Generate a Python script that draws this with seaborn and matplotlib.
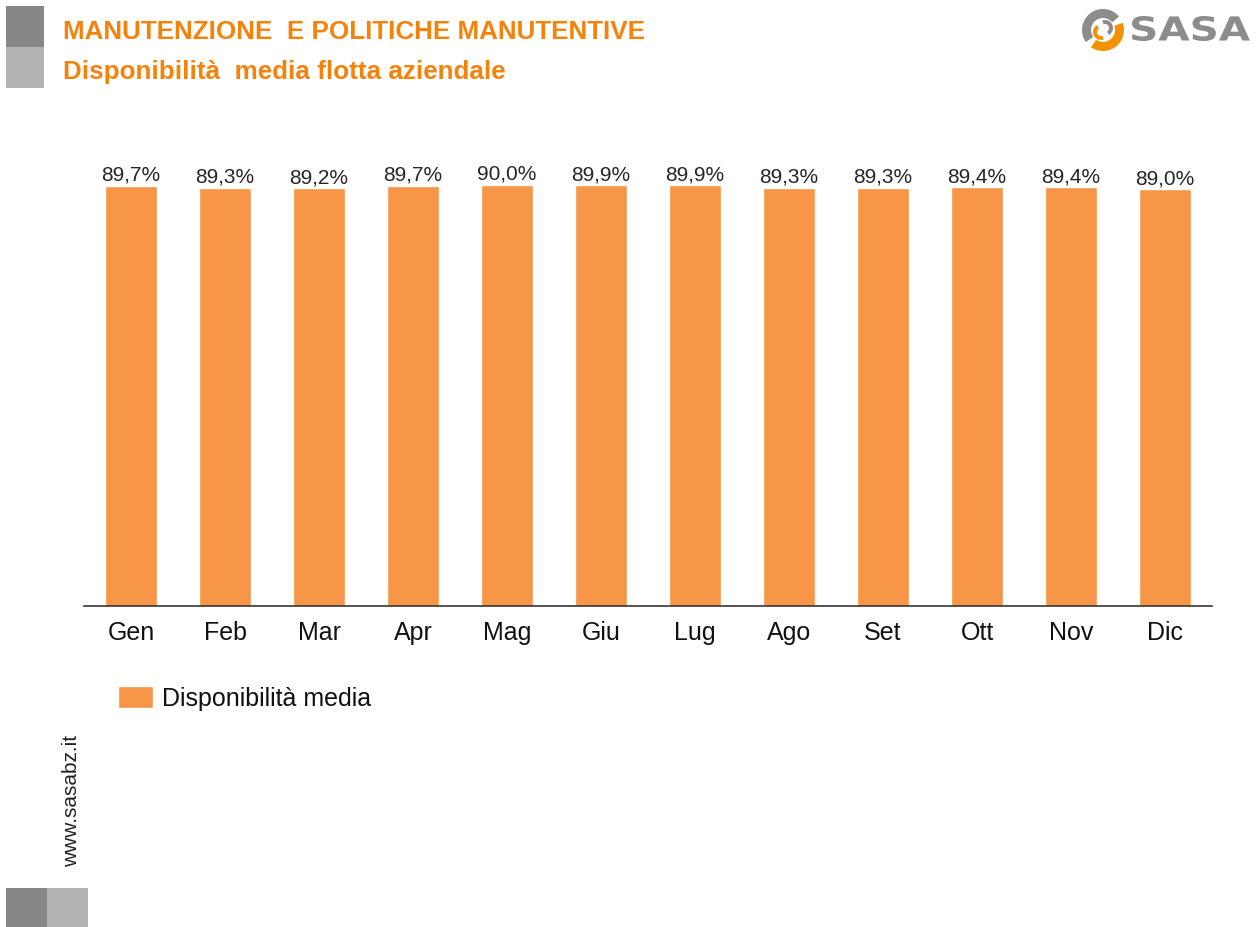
import matplotlib
matplotlib.use("Agg")
import matplotlib.pyplot as plt
import seaborn as sns
import pandas as pd
from matplotlib.patches import Rectangle, Wedge, PathPatch
from matplotlib.textpath import TextPath
from matplotlib.font_manager import FontProperties
from matplotlib.transforms import Affine2D

# Monthly fleet availability (%)
months = ["Gen", "Feb", "Mar", "Apr", "Mag", "Giu", "Lug", "Ago", "Set", "Ott", "Nov", "Dic"]
availability = [89.7, 89.3, 89.2, 89.7, 90.0, 89.9, 89.9, 89.3, 89.3, 89.4, 89.4, 89.0]
series_name = "Disponibilità media"

title_text = "MANUTENZIONE  E POLITICHE MANUTENTIVE"
subtitle_text = "Disponibilità  media flotta aziendale"
site_text = "www.sasabz.it"
brand_text = "SASA"

BAR = "#F79646"
ORANGE = "#F5820A"
DARK_GREY = "#878787"
LIGHT_GREY = "#B2B2B2"
LOGO_GREY = "#8C8C8C"
LOGO_ORANGE = "#F39200"

sns.set_theme(style="white")
plt.rcParams["font.family"] = ["Liberation Sans", "DejaVu Sans"]

W, H = 1258, 928
fig = plt.figure(figsize=(W / 100, H / 100), dpi=100)

df = pd.DataFrame({"mese": months, "valore": availability})

ax = fig.add_axes([84 / W, 1 - 607 / H, (1212 - 84) / W, (607 - 138.8) / H])
sns.barplot(data=df, x="mese", y="valore", color=BAR, saturation=1,
            width=0.553, ax=ax, label=series_name)
ax.set_ylim(0, 100)
ax.set_xlim(-0.5, len(months) - 0.5)
ax.set_xlabel("")
ax.set_ylabel("")
ax.set_yticks([])
for s in ["top", "right", "left"]:
    ax.spines[s].set_visible(False)
ax.spines["bottom"].set_color("#262626")
ax.spines["bottom"].set_linewidth(1.1)
ax.tick_params(axis="x", length=0, pad=10, labelsize=18, labelcolor="#111111")
ax.set_facecolor("none")

labels = [f"{v:.1f}%".replace(".", ",") for v in availability]
ax.bar_label(ax.containers[0], labels=labels, padding=1.5, fontsize=15, color="#262626")

leg = ax.legend(loc="upper left", bbox_to_anchor=(118 / W, 1 - 687 / H),
                bbox_transform=fig.transFigure, frameon=False, fontsize=18,
                handlelength=1.4, handleheight=0.96, handletextpad=0.36,
                borderpad=0, borderaxespad=0)
for t in leg.get_texts():
    t.set_color("#111111")

# Decoration layer in pixel coordinates (y grows downward)
deco = fig.add_axes([0, 0, 1, 1], zorder=-1)
deco.set_xlim(0, W)
deco.set_ylim(H, 0)
deco.axis("off")

deco.add_patch(Rectangle((6, 7), 38, 41, color=DARK_GREY, lw=0))
deco.add_patch(Rectangle((6, 48), 38, 41, color=LIGHT_GREY, lw=0))
deco.add_patch(Rectangle((6, 889), 41, 39, color=DARK_GREY, lw=0))
deco.add_patch(Rectangle((47, 889), 41, 39, color=LIGHT_GREY, lw=0))

deco.text(63, 39, title_text, color=ORANGE, fontsize=18.7, fontweight="bold",
          ha="left", va="baseline")
deco.text(63, 79, subtitle_text, color=ORANGE, fontsize=18.7, fontweight="bold",
          ha="left", va="baseline")

deco.text(72, 801, site_text, rotation=90, fontsize=15, color="#222222",
          ha="center", va="center")

# Logo: swirl mark (grey upper-left, orange lower-right) and heavy lettering
cx, cy, r = 1103, 31, 21
deco.add_patch(Wedge((cx, cy), r, 145, 320, width=9, color=LOGO_GREY, lw=0))
deco.add_patch(Wedge((cx, cy), r, -20, 125, width=9, color=LOGO_ORANGE, lw=0))
deco.add_patch(Wedge((cx + 2, cy - 2), 8, 250, 60, width=4, color=LOGO_GREY, lw=0))
deco.add_patch(Wedge((cx - 2, cy + 2), 8, 70, 240, width=4, color=LOGO_ORANGE, lw=0))

tp = TextPath((0, 0), brand_text, size=1,
              prop=FontProperties(family="DejaVu Sans", weight="bold"))
ext = tp.get_extents()
sx = (1250 - 1132) / ext.width
sy = (42 - 17) / ext.height
tr = Affine2D().translate(-ext.x0, -ext.y0).scale(sx, -sy).translate(1132, 42)
deco.add_patch(PathPatch(tr.transform_path(tp), color=LOGO_GREY, lw=0))

fig.savefig("out.png", dpi=100)
